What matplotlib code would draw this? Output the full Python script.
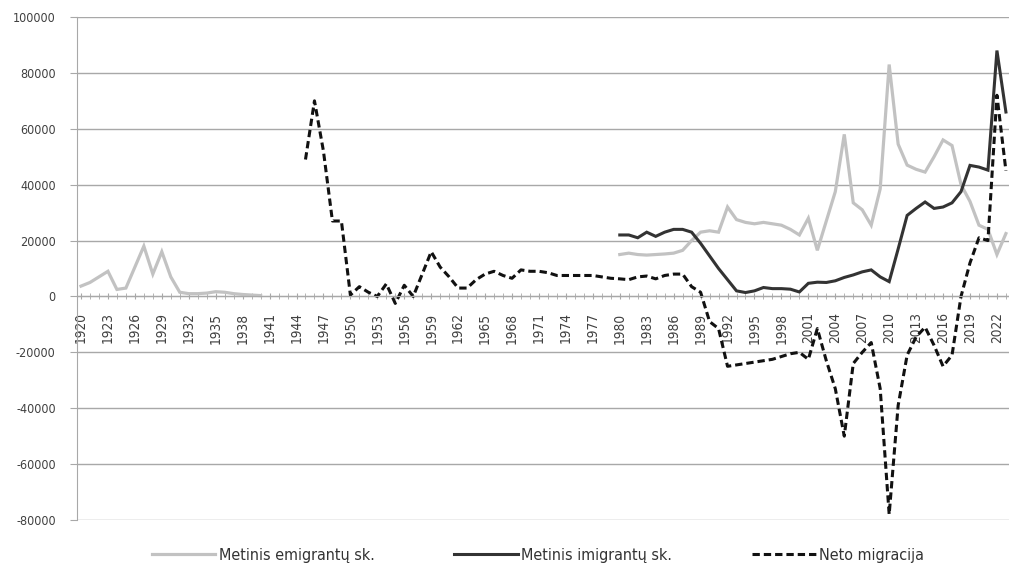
import numpy as np
import matplotlib
matplotlib.use("Agg")
import matplotlib.pyplot as plt
from matplotlib.ticker import FixedLocator, MultipleLocator

plt.rcParams['font.family'] = ['DejaVu Sans']
plt.rcParams['font.stretch'] = 'condensed'

# metinis emigrantų sk. (two stretches of data)
emi_years_a = list(range(1920, 1941))
emi_a = [3700, 5000, 7000, 9000, 2500, 3000, 10500, 18000, 8000, 16000, 7000,
         1500, 1000, 1000, 1200, 1700, 1500, 1000, 700, 500, 300]
emi_years_b = list(range(1980, 2024))
emi_b = [15000, 15500, 15000, 14800, 15000, 15200, 15500, 16500, 20000, 23000,
         23500, 23000, 32000, 27500, 26500, 26000, 26500, 26000, 25500, 24000,
         22000, 28000, 16500, 27000, 37500, 58000, 33500, 31000, 25500, 38500,
         83000, 54500, 47000, 45500, 44500, 50000, 56000, 54000, 40000, 34000,
         25500, 24000, 15000, 22500]

# metinis imigrantų sk.
imi_years = list(range(1980, 2024))
imi = [22000, 22000, 21000, 23000, 21500, 23000, 24000, 24000, 23000, 19000,
       14500, 10000, 6000, 2000, 1400, 2000, 3200, 2800, 2800, 2600,
       1600, 4700, 5100, 5000, 5600, 6800, 7700, 8800, 9500, 7000,
       5300, 17000, 29000, 31500, 33800, 31500, 32000, 33500, 37500, 46900,
       46300, 45200, 88000, 66000]

# neto migracija
net_years = list(range(1945, 2024))
net = [49000, 70000, 52000, 27000, 27000, 500, 3500, 1500, 0, 4500,
       -2500, 4000, 0, 8000, 16000, 10500, 7000, 3000, 3000, 6000,
       8000, 9000, 7500, 6500, 9500, 9000, 9000, 8500, 7500, 7500,
       7500, 7500, 7500, 7000, 6500, 6300, 6000, 7000, 7300, 6300,
       7500, 8000, 8000, 3500, 1500, -9000, -11500, -25000, -24500, -24000,
       -23500, -23000, -22500, -21500, -20500, -20000, -22500, -11500, -23000, -33000,
       -50000, -24000, -20000, -16500, -33000, -78000, -39000, -21000, -14500, -11000,
       -17500, -25000, -21000, 0, 12000, 21000, 20000, 72000, 45000]

label_years = list(range(1920, 2023, 3))
y_ticks = list(range(-80000, 100001, 20000))

fig = plt.figure(figsize=(10.09, 5.74), dpi=100)
W, H = 1009, 574
ax = fig.add_axes([76.5 / W, 1 - 520 / H, (1010.4 - 76.5) / W, 503 / H])

grid_c = '#a8a8a8'

# spines first: moving a spine resets the ticks
for s in ['top', 'right']:
    ax.spines[s].set_visible(False)
ax.spines['bottom'].set_position(('data', 0))
ax.spines['bottom'].set_color(grid_c)
ax.spines['left'].set_color(grid_c)

ax.plot(emi_years_a, emi_a, color='#c2c2c2', lw=2.3, solid_joinstyle='miter',
        label='Metinis emigrantų sk.')
ax.plot(emi_years_b, emi_b, color='#c2c2c2', lw=2.3, solid_joinstyle='miter')
ax.plot(imi_years, imi, color='#333333', lw=2.2, solid_joinstyle='miter',
        label='Metinis imigrantų sk.')
ax.plot(net_years, net, color='#111111', lw=2.2, ls=(0, (2.4, 1.3)),
        label='Neto migracija')

ax.set_xlim(1919.5, 2023.5)
ax.set_ylim(-80000, 100000)

ax.set_yticks(y_ticks)
ax.set_yticklabels([str(v) for v in y_ticks])
ax.yaxis.grid(True, color=grid_c, lw=1.0)
ax.set_axisbelow(True)

ax.xaxis.set_major_locator(FixedLocator(label_years))
ax.xaxis.set_minor_locator(MultipleLocator(1))
ax.set_xticklabels([str(y) for y in label_years])

ax.tick_params(axis='x', which='both', direction='inout', length=5, color=grid_c)
ax.tick_params(axis='x', which='major', labelsize=9.8, labelcolor='#404040',
               labelrotation=90, pad=9)
ax.tick_params(axis='y', direction='out', length=5, color=grid_c,
               labelsize=9, labelcolor='#404040', pad=10)

fig.legend(loc='center', bbox_to_anchor=(0.533, 0.033), ncol=3, frameon=False,
           handlelength=4.0, columnspacing=5.0, handletextpad=0.2,
           prop={'size': 11.5}, labelcolor='#333333')

fig.savefig('out.png', dpi=100)
